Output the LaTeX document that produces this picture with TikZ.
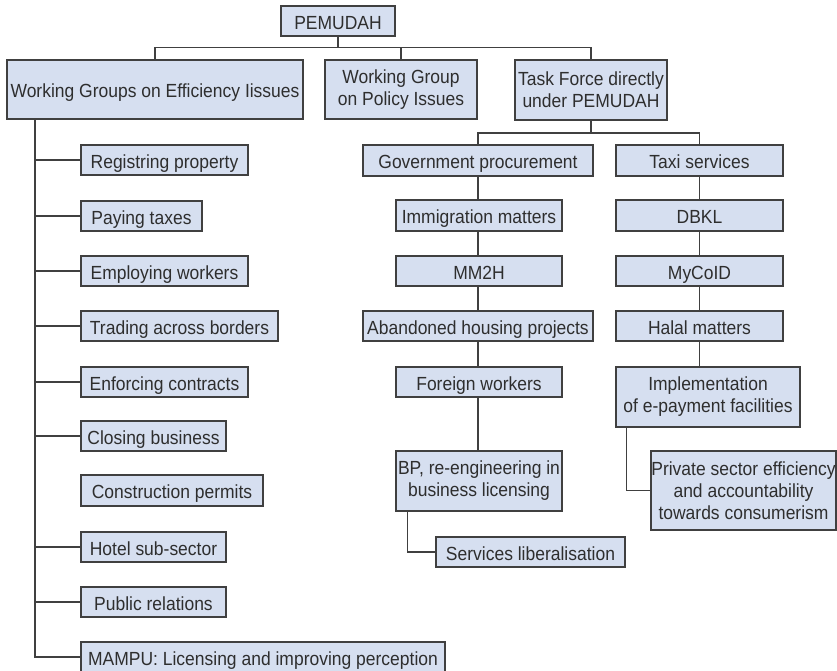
\documentclass[tikz,border=0pt]{standalone}
\usepackage{fontspec}
\setmainfont{Liberation Sans}[FakeStretch=0.92]
\definecolor{boxfill}{HTML}{D6DFF0}
\definecolor{boxline}{HTML}{404040}
\definecolor{txt}{HTML}{2E2E2E}
\begin{document}
\begin{tikzpicture}[x=1pt,y=-1pt,
  bx/.style={draw=boxline, fill=boxfill, line width=1.4pt, inner sep=0pt,
    align=center, text=txt, font=\fontsize{19}{22}\selectfont},
  oneline/.style={bx, text height=16pt, text depth=0pt},
  cn/.style={draw=boxline, line width=1.4pt}]
\useasboundingbox (0,0) rectangle (837,670);
% top
\node[oneline, minimum width=114pt, minimum height=30pt] (pem) at (338,21) {PEMUDAH};
\node[oneline, minimum width=296pt, minimum height=59pt] (wge) at (155,89.5) {Working Groups on Efficiency Iissues};
\node[bx, minimum width=152pt, minimum height=59pt] (wgp) at (401,89.5) {Working Group\\on Policy Issues};
\node[bx, minimum width=152pt, minimum height=60pt] (tf) at (591,90) {Task Force directly\\under PEMUDAH};
% left list
\node[oneline, minimum width=167pt, minimum height=30pt] (reg) at (164.5,160) {Registring property};
\node[oneline, minimum width=121pt, minimum height=30pt] (pay) at (141.5,216) {Paying taxes};
\node[oneline, minimum width=167pt, minimum height=30pt] (emp) at (164.5,271) {Employing workers};
\node[oneline, minimum width=197pt, minimum height=30pt] (trd) at (179.5,326) {Trading across borders};
\node[oneline, minimum width=167pt, minimum height=30pt] (enf) at (164.5,382) {Enforcing contracts};
\node[oneline, minimum width=145pt, minimum height=30pt] (cls) at (153.5,436) {Closing business};
\node[oneline, minimum width=182pt, minimum height=31pt] (con) at (172,490.5) {Construction permits};
\node[oneline, minimum width=145pt, minimum height=30pt] (hot) at (153.5,547) {Hotel sub-sector};
\node[oneline, minimum width=145pt, minimum height=30pt] (pub) at (153.5,602) {Public relations};
\node[oneline, minimum width=364pt, minimum height=30pt] (mam) at (263,657) {MAMPU: Licensing and improving perception};
% middle column
\node[oneline, minimum width=230pt, minimum height=31pt] (gp) at (478,160.5) {Government procurement};
\node[oneline, minimum width=166pt, minimum height=31pt] (im) at (479,215.5) {Immigration matters};
\node[oneline, minimum width=166pt, minimum height=30pt] (mm) at (479,271) {MM2H};
\node[oneline, minimum width=230pt, minimum height=30pt] (ab) at (478,326) {Abandoned housing projects};
\node[oneline, minimum width=166pt, minimum height=30pt] (fw) at (479,382) {Foreign workers};
\node[bx, minimum width=166pt, minimum height=60pt] (bp) at (479,481) {BP, re-engineering in\\business licensing};
\node[oneline, minimum width=189pt, minimum height=30pt] (sl) at (530.5,552) {Services liberalisation};
% right column
\node[oneline, minimum width=167pt, minimum height=31pt] (tx) at (699.5,160.5) {Taxi services};
\node[oneline, minimum width=167pt, minimum height=31pt] (db) at (699.5,215.5) {DBKL};
\node[oneline, minimum width=167pt, minimum height=30pt] (my) at (699.5,271) {MyCoID};
\node[oneline, minimum width=167pt, minimum height=30pt] (hl) at (699.5,326) {Halal matters};
\node[bx, minimum width=184pt, minimum height=60pt] (imp) at (708,397) {Implementation\\of e-payment facilities};
\node[bx, minimum width=185pt, minimum height=79pt] (prv) at (743.5,490.5) {Private sector efficiency\\and accountability\\towards consumerism};
% connectors top
\coordinate (b1) at (338,47.5);
\draw[cn] (pem.south) -- (b1);
\draw[cn] (wge.north) |- (b1) -| (tf.north);
\draw[cn] (wgp.north) -- (wgp.north |- b1);
% spine
\coordinate (spx) at (35,0);
\draw[cn] (wge.south -| spx) |- (mam.west);
\foreach \n in {reg,pay,emp,trd,enf,cls,hot,pub}
  \draw[cn] (\n.west -| spx) -- (\n.west);
% task force bus
\coordinate (b2) at (591,133);
\draw[cn] (tf.south) -- (b2);
\draw[cn] (gp.north) |- (b2) -| (tx.north);
\draw[cn] (gp.south) -- (gp.south |- im.north);
\draw[cn] (gp.south |- im.south) -- (gp.south |- mm.north);
\draw[cn] (gp.south |- mm.south) -- (gp.south |- ab.north);
\draw[cn] (ab.south) -- (ab.south |- fw.north);
\draw[cn] (ab.south |- fw.south) -- (ab.south |- bp.north);
\draw[cn] ([xshift=12pt]bp.south west) |- (sl.west);
\draw[cn] (tx.south) -- (db.north);
\draw[cn] (db.south) -- (my.north);
\draw[cn] (my.south) -- (hl.north);
\draw[cn] (hl.south) -- (hl.south |- imp.north);
\draw[cn] ([xshift=11pt]imp.south west) |- (prv.west);
\end{tikzpicture}
\end{document}
